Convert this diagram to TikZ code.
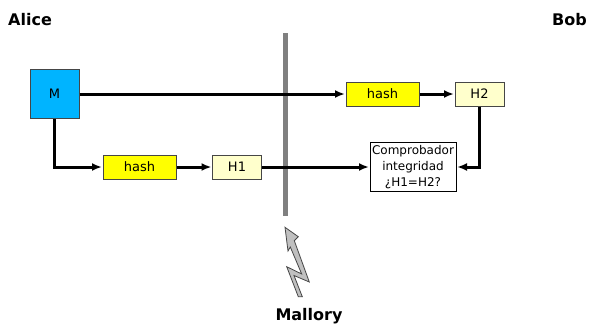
\documentclass[tikz,border=0pt]{standalone}
\usepackage{fontspec}
\setmainfont{DejaVu Sans}
\usetikzlibrary{arrows.meta}
\definecolor{mblue}{RGB}{0,180,255}
\definecolor{hyellow}{RGB}{255,255,0}
\definecolor{hlight}{RGB}{255,255,204}
\definecolor{bordergray}{RGB}{70,70,70}
\definecolor{bargray}{RGB}{128,128,128}
\definecolor{boltgray}{RGB}{192,192,192}
\tikzset{
  boxbase/.style={draw=bordergray, line width=1pt, inner sep=0pt, font=\fontsize{13}{15}\selectfont},
  mbox/.style={boxbase, fill=mblue, minimum width=49pt, minimum height=49pt},
  hashbox/.style={boxbase, fill=hyellow, minimum width=73pt, minimum height=24pt},
  hvbox/.style={boxbase, fill=hlight, minimum width=49pt, minimum height=24pt},
  checkbox/.style={draw=black, fill=white, line width=1pt, inner sep=0pt, minimum width=86pt, minimum height=49pt, align=center, font=\fontsize{12}{16}\selectfont},
  conn/.style={line width=3pt, -{Latex[length=10pt,width=8pt]}, shorten >=0.5pt},
  party/.style={font=\fontsize{16}{19}\selectfont\bfseries},
}
\begin{document}
\begin{tikzpicture}[x=1pt,y=-1pt]
\useasboundingbox (0,0) rectangle (589,327);
% barrier
\fill[bargray] (282.8,32.7) rectangle (287.8,215.7);
% labels
\node[party, anchor=base west, inner sep=0pt] (alice) at (8,25) {Alice};
\node[party, anchor=base east, inner sep=0pt] (bob) at (587,25) {Bob};
\node[party, anchor=base, inner sep=0pt] (mallory) at (309,320) {Mallory};
% nodes
\node[mbox] (m) at (54.5,94) {M};
\node[hashbox] (hash1) at (139.5,167) {hash};
\node[hvbox] (h1) at (237,167) {H1};
\node[hashbox] (hash2) at (382.5,94) {hash};
\node[hvbox] (h2) at (479.5,94) {H2};
\node[checkbox] (check) at (413,167) {Comprobador\\integridad\\¿H1=H2?};
% connectors
\draw[conn] (m.east) -- (hash2.west);
\draw[conn] (m.south) |- (hash1.west);
\draw[conn] (hash1.east) -- (h1.west);
\draw[conn] (h1.east) -- (check.west);
\draw[conn] (hash2.east) -- (h2.west);
\draw[conn] (h2.south) |- (check.east);
% lightning bolt
\draw[fill=boltgray, draw=bordergray, line width=0.8pt, line join=miter]
  (285,227.3) -- (298.3,236.7) -- (294.3,240.7) -- (309.3,282) -- (294,275.5)
  -- (302.3,296.7) -- (298.3,296.7) -- (286.7,266.7) -- (301.7,274)
  -- (290.3,247) -- (288,251) -- cycle;
\end{tikzpicture}
\end{document}
